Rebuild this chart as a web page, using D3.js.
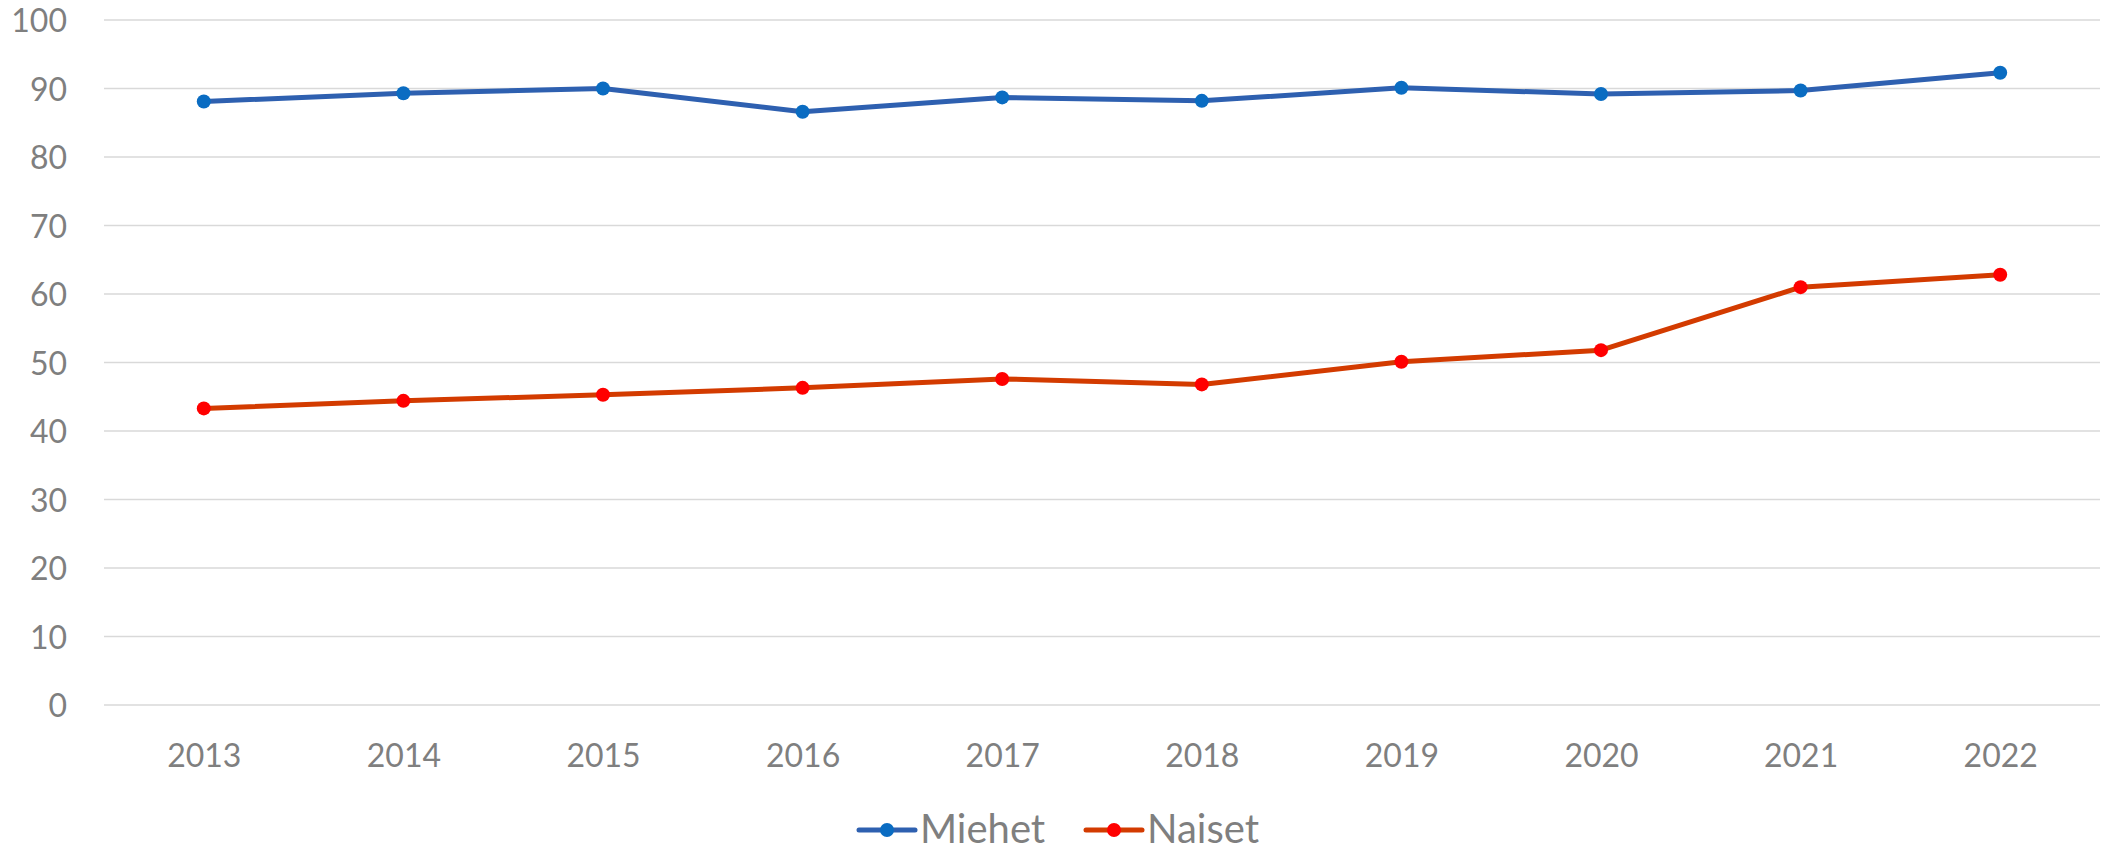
<!DOCTYPE html>
<html>
<head>
<meta charset="utf-8">
<script src="https://cdn.jsdelivr.net/npm/d3@7"></script>
<style>
    html, body { margin: 0; padding: 0; background: #fff; }
    text { font-family: Lato, "Open Sans", sans-serif; fill: #7f7f7f; }
</style>
</head>
<body>
<div id="container"></div>
<script>
const years = ['2013', '2014', '2015', '2016', '2017', '2018', '2019', '2020', '2021', '2022'];
const miehet = [88.1, 89.3, 90.0, 86.6, 88.7, 88.2, 90.1, 89.2, 89.7, 92.3];
const naiset = [43.3, 44.4, 45.3, 46.3, 47.6, 46.8, 50.1, 51.8, 61.0, 62.8];
const yTicks = [0, 10, 20, 30, 40, 50, 60, 70, 80, 90, 100];

const series = [
    { name: 'Miehet', values: miehet, line: '#2E60B0', dot: '#0A6CC2' },
    { name: 'Naiset', values: naiset, line: '#D33B00', dot: '#FF0000' }
];

const width = 2101, height = 853;
const margin = { top: 20, right: 1, bottom: 148, left: 104 };

const svg = d3.select('#container')
    .append('svg')
    .attr('width', width)
    .attr('height', height)

const x = d3.scalePoint()
    .domain(years)
    .range([margin.left, width - margin.right])
    .padding(0.5)

const y = d3.scaleLinear()
    .domain([0, 100])
    .range([height - margin.bottom, margin.top])

// gridlines
svg.append('g')
    .selectAll('line')
    .data(yTicks)
    .enter()
    .append('line')
    .attr('x1', margin.left)
    .attr('x2', width - margin.right)
    .attr('y1', d => y(d))
    .attr('y2', d => y(d))
    .attr('stroke', '#d9d9d9')
    .attr('stroke-width', 1.5)

// y axis labels
const yAxis = svg.append('g')
    .attr('transform', `translate(${margin.left - 37},0)`)
    .call(d3.axisLeft(y).tickValues(yTicks).tickSize(0).tickPadding(0))
yAxis.select('.domain').remove()
yAxis.selectAll('text')
    .attr('font-size', 32)
    .attr('font-family', null)
    .attr('dy', '0.36em')

// x axis labels
const xAxis = svg.append('g')
    .attr('transform', `translate(0,${height - margin.bottom})`)
    .call(d3.axisBottom(x).tickSize(0).tickPadding(0))
xAxis.select('.domain').remove()
xAxis.selectAll('text')
    .attr('font-size', 32)
    .attr('font-family', null)
    .attr('dy', null)
    .attr('y', 62)

const line = d3.line()
    .x((d, i) => x(years[i]))
    .y(d => y(d))

for (const s of series) {
    svg.append('path')
        .datum(s.values)
        .attr('d', line)
        .attr('fill', 'none')
        .attr('stroke', s.line)
        .attr('stroke-width', 5)
        .attr('stroke-linejoin', 'round')

    svg.append('g')
        .selectAll('circle')
        .data(s.values)
        .enter()
        .append('circle')
        .attr('cx', (d, i) => x(years[i]))
        .attr('cy', d => y(d))
        .attr('r', 7)
        .attr('fill', s.dot)
}

// legend
const legendX = [859, 1086];
const legend = svg.append('g')
    .selectAll('g')
    .data(series)
    .enter()
    .append('g')
    .attr('transform', (d, i) => `translate(${legendX[i]},830)`)

legend.append('line')
    .attr('x1', 0)
    .attr('x2', 56)
    .attr('stroke', d => d.line)
    .attr('stroke-width', 5)
    .attr('stroke-linecap', 'round')

legend.append('circle')
    .attr('cx', 28)
    .attr('r', 7)
    .attr('fill', d => d.dot)

legend.append('text')
    .attr('x', 61)
    .attr('y', 13)
    .attr('font-size', 40)
    .text(d => d.name)
</script>
</body>
</html>
